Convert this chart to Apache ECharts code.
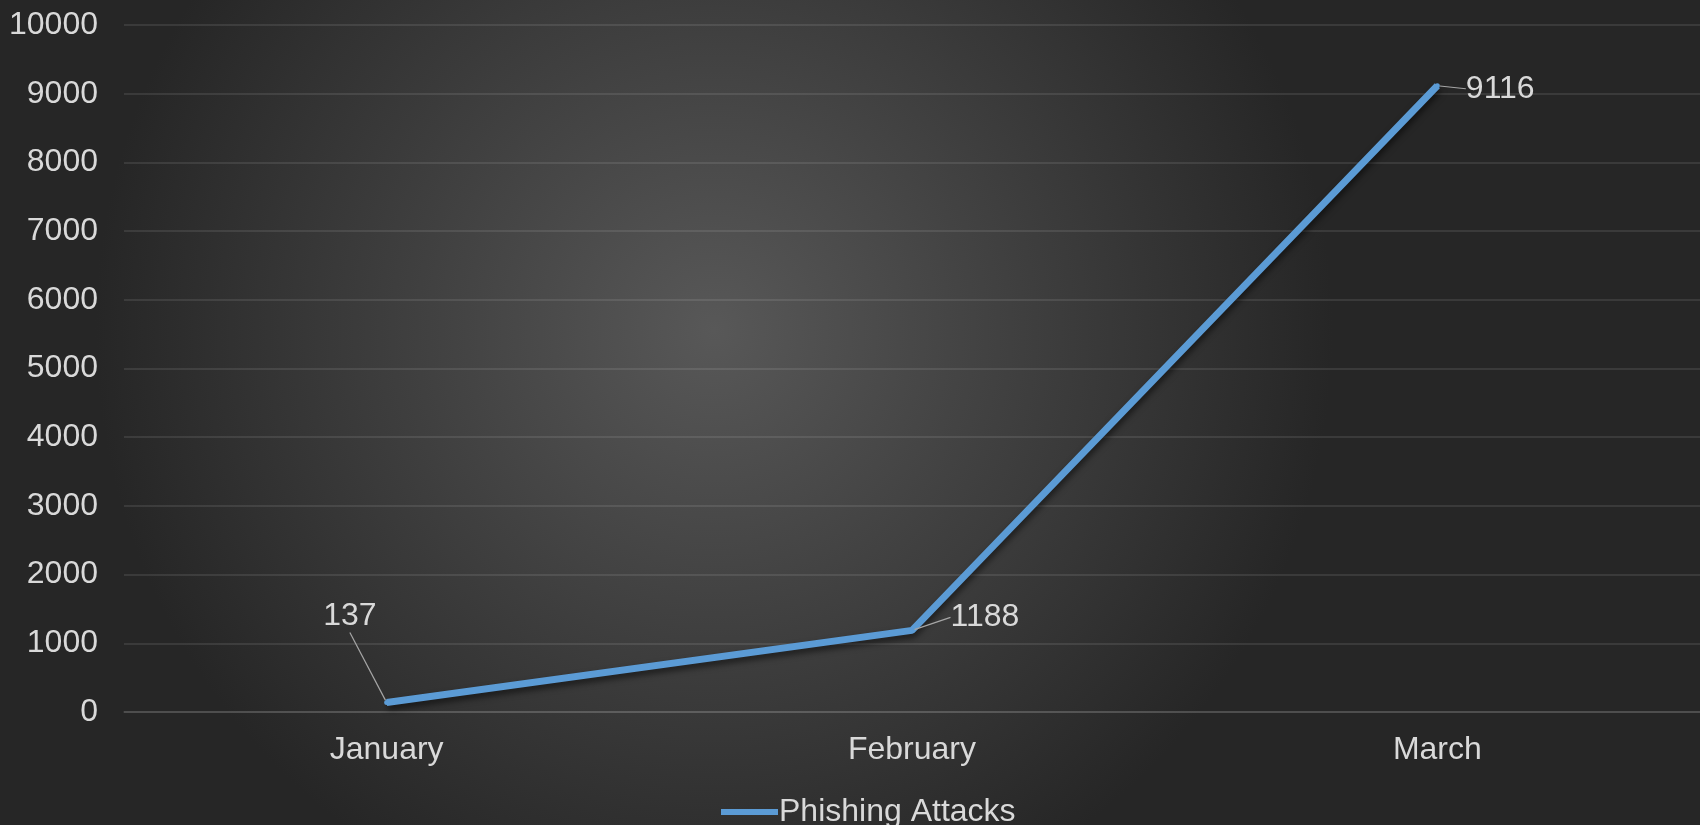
<!DOCTYPE html>
<html>
<head>
<meta charset="utf-8">
<style>
html,body{margin:0;padding:0;width:1700px;height:825px;overflow:hidden;}
#chart{width:1700px;height:825px;}
</style>
<script src="https://cdn.jsdelivr.net/npm/echarts@6/dist/echarts.min.js"></script>
</head>
<body>
<div id="chart"></div>
<script>
const categories = ['January', 'February', 'March'];
const phishingAttacks = [137, 1188, 9116];
const seriesName = 'Phishing Attacks';

const labelOffsets = [[-66, -86], [36, -13], [26, 3]];

const chart = echarts.init(document.getElementById('chart'));
const font = '"Liberation Sans", Arial, sans-serif';
chart.setOption({
  backgroundColor: {
    type: 'radial', x: 0.42, y: 0.4, r: 0.75,
    colorStops: [
      {offset: 0, color: '#585858'},
      {offset: 1, color: '#262626'}
    ]
  },
  animation: false,
  grid: {left: 124, right: 0, top: 25, bottom: 113, containLabel: false},
  legend: {
    data: [seriesName],
    left: 716, top: 791,
    icon: 'rect', itemWidth: 57, itemHeight: 6, itemGap: 10,
    textStyle: {color: '#d9d9d9', fontSize: 32, fontFamily: font, padding: [0,0,0,-4]}
  },
  xAxis: {
    type: 'category', data: categories, boundaryGap: true,
    axisLine: {show: true, lineStyle: {color: 'rgba(255,255,255,0.14)', width: 1.5}},
    axisTick: {show: false},
    axisLabel: {color: '#d9d9d9', fontSize: 32, fontFamily: font, margin: 22}
  },
  yAxis: {
    type: 'value', min: 0, max: 10000, interval: 1000,
    axisLine: {show: false}, axisTick: {show: false},
    splitLine: {lineStyle: {color: 'rgba(255,255,255,0.13)', width: 1.5}},
    axisLabel: {color: '#d9d9d9', fontSize: 32, fontFamily: font, margin: 26,
      formatter: function (v) { return String(v); }}
  },
  series: [{
    name: seriesName, type: 'line', data: phishingAttacks,
    symbol: 'circle', symbolSize: 5, showSymbol: true,
    lineStyle: {color: '#5B9BD5', width: 7, shadowColor: 'rgba(0,0,0,0.55)', shadowBlur: 6, shadowOffsetY: 4, shadowOffsetX: 1},
    itemStyle: {color: '#5B9BD5'},
    label: {show: true, position: 'right', distance: 0, color: '#d9d9d9', fontSize: 32, fontFamily: font},
    labelLine: {show: true, lineStyle: {color: '#a6a6a6', width: 1.2}},
    labelLayout: function (p) {
      const o = labelOffsets[p.dataIndex];
      return {dx: o[0], dy: o[1]};
    }
  }]
});
</script>
</body>
</html>
